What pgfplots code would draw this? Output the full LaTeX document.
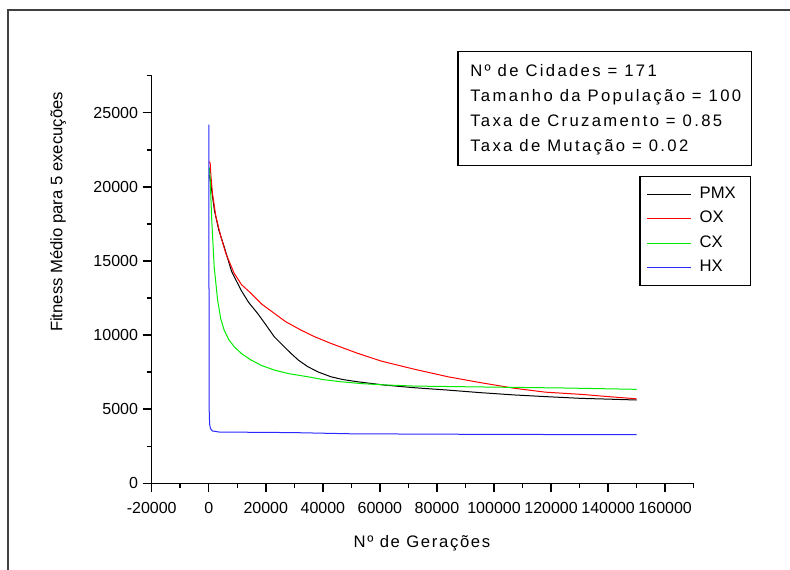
\documentclass[border=0pt]{standalone}
\usepackage{fontspec}
\setmainfont{Liberation Sans}
\newfontfamily\spaced[LetterSpace=14]{Liberation Sans}
\newfontfamily\spacedx[LetterSpace=10]{Liberation Sans}
\usepackage{pgfplots}
\pgfplotsset{compat=1.18}
\definecolor{cgreen}{RGB}{0,235,0}
\definecolor{cblue}{RGB}{40,40,255}
\begin{document}
\begin{tikzpicture}
\useasboundingbox (0pt,0pt) rectangle (592.5pt,-426.75pt);
\draw[line width=1.5pt, black!75] (6pt,-440pt) -- (6pt,-7.5pt) -- (610pt,-7.5pt);
\begin{axis}[
  at={(113.775pt,-362.475pt)}, anchor=south west,
  scale only axis, width=406.5pt, height=305.7pt,
  axis x line=bottom, axis y line=left,
  axis line style={-, line width=1.1pt},
  xmin=-20000, xmax=170000, ymin=0, ymax=27500,
  xtick={-20000,0,20000,40000,60000,80000,100000,120000,140000,160000},
  minor xtick={-10000,10000,30000,50000,70000,90000,110000,130000,150000,170000},
  ytick={0,5000,10000,15000,20000,25000},
  minor ytick={2500,7500,12500,17500,22500,27500},
  tick align=outside,
  major tick length=6.75pt, minor tick length=3.75pt,
  every tick/.style={black, line width=1.1pt},
  scaled ticks=false,
  /pgf/number format/.cd, fixed, 1000 sep={}, assume math mode=true, /pgfplots/.cd,
  tick label style={font=\fontsize{12}{14}\selectfont},
  xticklabel style={yshift=-4pt},
  legend cell align=left,
  legend style={at={(0.9,0.754)}, anchor=north west, draw=black, line width=0.8pt,
    font=\fontsize{12.5}{15}\selectfont, row sep=2.2pt, column sep=4pt,
    inner xsep=5pt, inner ysep=5.5pt,
    nodes={text height=9pt, text depth=3pt, inner sep=2pt}},
  legend image code/.code={\draw[#1, line width=0.75pt] (0pt,0pt) -- (33pt,0pt);},
]
\addplot[black, line width=0.75pt] coordinates {
(200,20800) (500,20500) (1000,19800) (2000,18400) (3500,17100) (5400,15960)
(8000,14300) (11300,13040) (14000,12200) (17100,11470) (20000,10700) (22950,9890)
(26000,9300) (28800,8770) (31500,8300) (34700,7870) (38500,7500) (42800,7190)
(47000,7000) (52200,6850) (61500,6630) (72000,6450) (83800,6290) (95000,6120)
(107200,5960) (118000,5850) (130600,5730) (140000,5680) (150000,5620)};
\addlegendentry{\makebox[31pt][l]{PMX}}
\addplot[red, line width=0.75pt] coordinates {
(200,21700) (500,21600) (740,20800) (1300,19560) (2500,18000) (4250,16640)
(6000,15500) (8900,14170) (11500,13400) (14800,12820) (18500,12100) (22950,11470)
(27000,10900) (32300,10340) (37000,9900) (42800,9440) (52200,8770) (60400,8250)
(72000,7700) (83800,7190) (95000,6800) (107200,6410) (118000,6150) (130600,6000)
(140000,5850) (150000,5700)};
\addlegendentry{OX}
\addplot[cgreen, line width=0.75pt] coordinates {
(200,21300) (500,20500) (1000,17980) (1900,14610) (3100,12370) (4200,11100)
(5400,10340) (7000,9700) (8900,9220) (11500,8750) (14800,8320) (18500,7950)
(22950,7640) (28000,7400) (34700,7190) (40000,7000) (46400,6850) (54000,6720)
(61500,6640) (72100,6560) (95500,6500) (124800,6430) (150000,6340)};
\addlegendentry{CX}
\addplot[cblue, line width=0.75pt] coordinates {
(0,24200) (150,5000) (300,4000) (600,3700) (1300,3530) (3650,3460)
(30000,3420) (50000,3340) (100000,3300) (150000,3280)};
\addlegendentry{HX}
\end{axis}
\draw[line width=0.9pt] (343.5pt,-38.8pt) rectangle (563.8pt,-124.3pt);
\begin{scope}[every node/.style={anchor=base west, inner sep=0pt, font=\spaced\fontsize{12.5}{15}\selectfont}]
\node at (352.5pt,-57.5pt) {Nº de Cidades = 171};
\node at (352.5pt,-76.3pt) {Tamanho da População = 100};
\node at (352.5pt,-95pt) {Taxa de Cruzamento = 0.85};
\node at (352.5pt,-113.8pt) {Taxa de Mutação = 0.02};
\end{scope}
\node[rotate=90, inner sep=0pt, font=\fontsize{12.5}{15}\selectfont] at (43.5pt,-159pt) {Fitness Médio para 5 execuções};
\node[inner sep=0pt, font=\spacedx\fontsize{12.5}{15}\selectfont] at (316.5pt,-407.7pt) {Nº de Gerações};
\end{tikzpicture}
\end{document}
